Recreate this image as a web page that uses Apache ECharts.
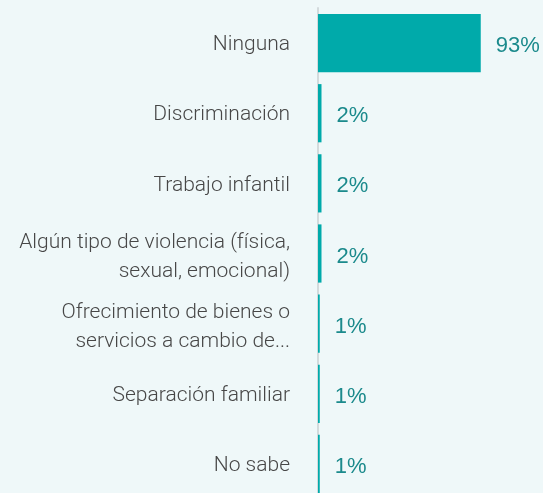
<!DOCTYPE html>
<html>
<head>
<meta charset="utf-8">
<script src="https://cdn.jsdelivr.net/npm/echarts@6/dist/echarts.min.js"></script>
<style>
  html, body { margin: 0; padding: 0; background: #eff8f9; }
  #chart { width: 543px; height: 493px; }
</style>
</head>
<body>
<div id="chart"></div>
<script>
// Categories from top to bottom, with their shares (%)
const categories = [
  'Ninguna',
  'Discriminación',
  'Trabajo infantil',
  'Algún tipo de violencia (física,\nsexual, emocional)',
  'Ofrecimiento de bienes o\nservicios a cambio de...',
  'Separación familiar',
  'No sabe'
];
const values = [93, 2, 2, 2, 1, 1, 1];

const chart = echarts.init(document.getElementById('chart'), null, { renderer: 'canvas' });

// Category names are drawn as labels of a zero-length series anchored at the axis,
// so their vertical placement can be nudged.
const nameLabels = categories.map(name => ({
  value: 0,
  label: { offset: [0, name.indexOf('\n') >= 0 ? 4 : 2] }
}));

chart.setOption({
  backgroundColor: '#eff8f9',
  animation: false,
  grid: {
    left: 318, right: 50, top: 8, bottom: -6,
    containLabel: false,
    outerBoundsMode: 'none'
  },
  xAxis: {
    type: 'value',
    min: 0,
    max: 100,
    show: false
  },
  yAxis: {
    type: 'category',
    data: categories,
    inverse: true,
    axisLine: { show: true, lineStyle: { color: '#d3dadc', width: 2 } },
    axisTick: { show: false },
    splitLine: { show: false },
    axisLabel: { show: false }
  },
  series: [{
    type: 'bar',
    data: nameLabels,
    silent: true,
    barGap: '-100%',
    barCategoryGap: '17%',
    itemStyle: { color: 'rgba(0,0,0,0)' },
    label: {
      show: true,
      position: 'left',
      distance: 28,
      align: 'right',
      formatter: p => categories[p.dataIndex],
      color: '#474747',
      fontSize: 21,
      fontFamily: 'Roboto',
      fontWeight: 300,
      lineHeight: 29
    }
  }, {
    type: 'bar',
    data: values,
    barGap: '-100%',
    barCategoryGap: '17%',
    itemStyle: { color: '#00aaaa' },
    label: {
      show: true,
      position: 'right',
      distance: 15,
      offset: [0, 3],
      formatter: '{c}%',
      color: '#1b8a8c',
      fontSize: 22,
      fontFamily: 'Liberation Sans, Arial, sans-serif'
    }
  }]
});
</script>
</body>
</html>
